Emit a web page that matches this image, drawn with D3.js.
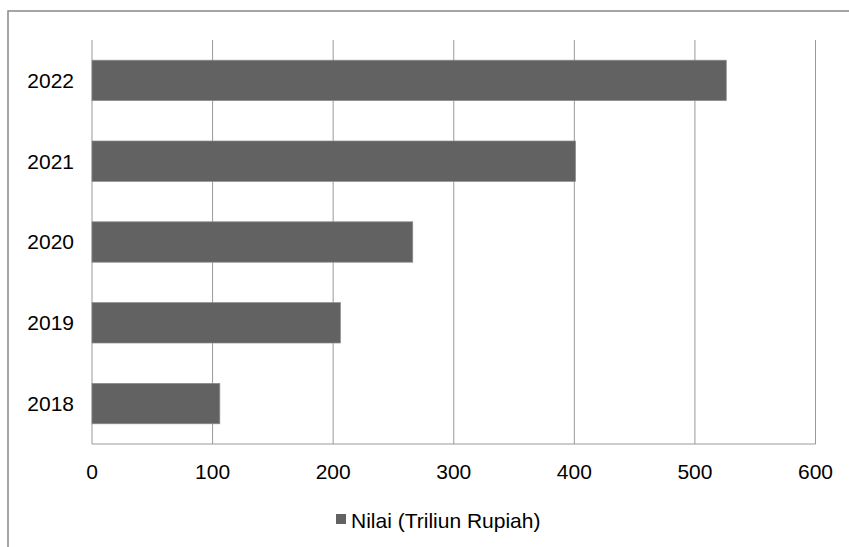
<!DOCTYPE html>
<html><head><meta charset="utf-8">
<script src="https://cdn.jsdelivr.net/npm/d3@7"></script>
<style>body{margin:0;background:#fff}svg{display:block}text{font-family:"Liberation Sans",Arial,sans-serif;fill:#000}</style>
</head><body><svg id="c" width="849" height="547"></svg>
<script>
const categories = ["2022","2021","2020","2019","2018"];
const values = [526, 401, 266, 206, 106];
const xTicks = [0,100,200,300,400,500,600];
const seriesName = "Nilai (Triliun Rupiah)";

(function(){
const svg = d3.select("#c");
const mL = 92, mR = 815.5, mT = 40, mB = 444;
const x = d3.scaleLinear().domain([0,600]).range([mL,mR]);
const y = d3.scaleBand().domain(categories).range([mT,mB]).paddingInner(0.5).paddingOuter(0.25);

// outer frame
svg.append("path").attr("d","M8,849 V11 H849").attr("fill","none").attr("stroke","#888").attr("stroke-width",1.5);

// gridlines
svg.append("g").selectAll("line").data(xTicks).join("line")
  .attr("x1",d=>x(d)).attr("x2",d=>x(d)).attr("y1",mT).attr("y2",mB)
  .attr("stroke","#999").attr("stroke-width",1);
// axis line
svg.append("line").attr("x1",mL).attr("x2",mR).attr("y1",mB).attr("y2",mB).attr("stroke","#999");

// bars
svg.append("g").selectAll("rect").data(categories).join("rect")
  .attr("x",x(0)).attr("y",d=>y(d)).attr("height",y.bandwidth())
  .attr("width",(d,i)=>x(values[i])-x(0))
  .attr("fill","#626262").attr("stroke","#8a8a8a").attr("stroke-width",0.7);

// y labels
svg.append("g").selectAll("text").data(categories).join("text")
  .attr("x",74).attr("y",d=>y(d)+y.bandwidth()/2).attr("dy","0.35em")
  .attr("text-anchor","end").attr("font-size",21).text(d=>d);
// x labels
svg.append("g").selectAll("text").data(xTicks).join("text")
  .attr("x",d=>x(d)).attr("y",479).attr("text-anchor","middle").attr("font-size",21).text(d=>d);

// legend
svg.append("rect").attr("x",336).attr("y",514).attr("width",10).attr("height",10).attr("fill","#626262");
svg.append("text").attr("x",351).attr("y",527.5).attr("font-size",21).text(seriesName);
})();
</script></body></html>
